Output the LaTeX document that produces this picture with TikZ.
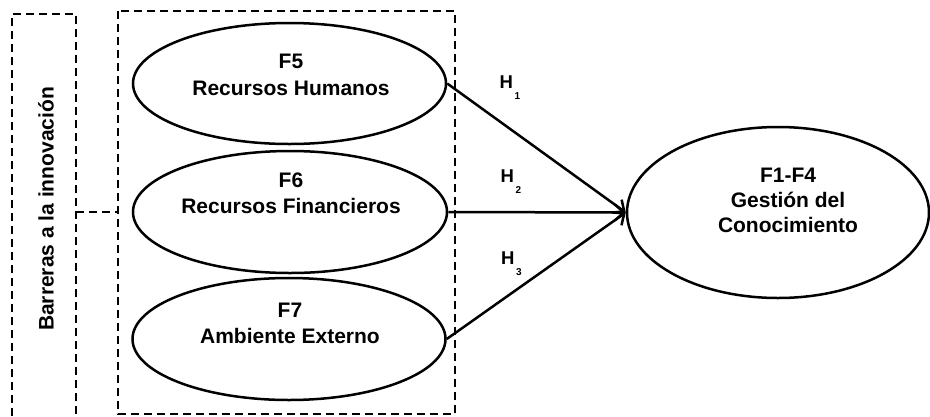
\documentclass[tikz,border=0pt]{standalone}
\usepackage{fontspec}
\setmainfont{Liberation Sans}
\usetikzlibrary{arrows.meta,shapes.geometric}
\newcommand{\hsub}[1]{{\fontsize{18.5}{18.5}\selectfont\bfseries H}\kern1.5pt\raisebox{-10.5pt}{\fontsize{10}{10}\selectfont\bfseries #1}}
\begin{document}
\begin{tikzpicture}[x=1pt,y=-1pt,
  oval/.style={draw,line width=2.5pt,ellipse,inner sep=0pt},
  lbl/.style={font=\fontsize{21}{26.5}\selectfont\bfseries,align=center,inner sep=0pt},
  hlbl/.style={inner sep=0pt,anchor=base west},
  dashbox/.style={line width=2pt,dash pattern=on 8pt off 5pt},
  arr/.style={line width=2.5pt,-{Straight Barb[length=9pt,width=16pt,line width=2.5pt]}}]
\useasboundingbox (0,0) rectangle (930,416);
% dashed boxes
\coordinate (lbA) at (12,416);
\coordinate (lbB) at (12,14);
\coordinate (lbC) at (76,14);
\coordinate (lbD) at (76,416);
\draw[dashbox] (lbA) -- (lbB) -- (lbC) -- (lbD);
\coordinate (ibNW) at (118,11);
\coordinate (ibSE) at (455,414);
\draw[dashbox] (ibNW) rectangle (ibSE);
\coordinate (lbR) at (76,212);
\coordinate (ibL) at (118,212);
\draw[dashbox] (lbR) -- (ibL);
\node[lbl,rotate=90] (barr) at (46,209) {Barreras a la innovación};
% ellipses
\node[oval,minimum width=313pt,minimum height=121pt] (f5) at (289.5,83.5) {};
\node[oval,minimum width=314pt,minimum height=122pt] (f6) at (290,212) {};
\node[oval,minimum width=313pt,minimum height=122pt] (f7) at (289,339) {};
\node[oval,minimum width=302pt,minimum height=171pt] (g) at (778,212.5) {};
\node[lbl] (t5) at (291,75) {F5\\Recursos Humanos};
\node[lbl] (t6) at (291,193.5) {F6\\Recursos Financieros};
\node[lbl] (t7) at (290,323.5) {F7\\Ambiente Externo};
\node[lbl,font=\fontsize{21}{25.2}\selectfont\bfseries] (tg) at (788,200.5) {F1-F4\\Gestión del\\Conocimiento};
% arrows
\draw[arr] (f5.east) -- (g.west);
\draw[arr] (f6.east) -- (g.west);
\draw[arr] (f7.east) -- (g.west);
\node[hlbl] (h1) at (499.5,88.5) {\hsub{1}};
\node[hlbl] (h2) at (500.5,182.7) {\hsub{2}};
\node[hlbl] (h3) at (501,264.5) {\hsub{3}};
\end{tikzpicture}
\end{document}
